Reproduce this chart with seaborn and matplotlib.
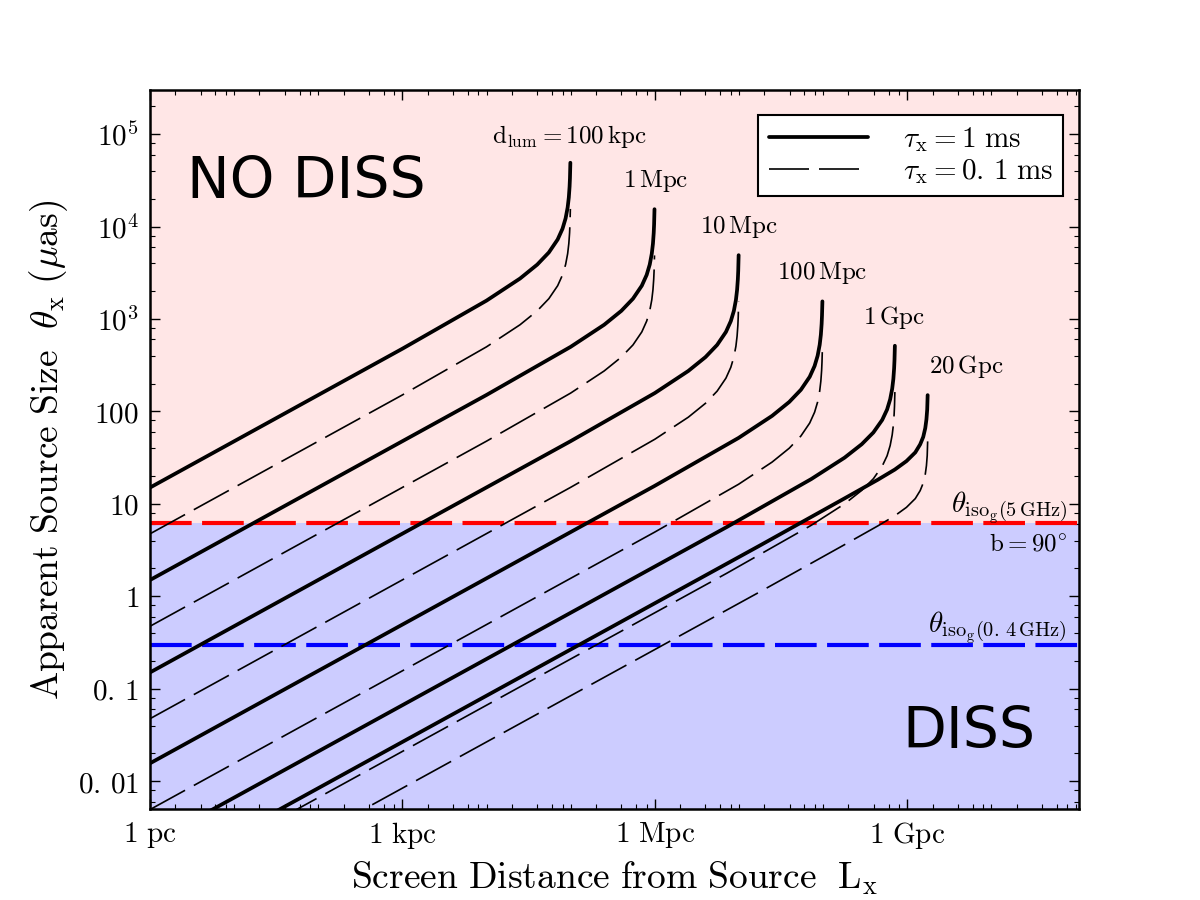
import matplotlib
matplotlib.use("Agg")
import matplotlib.pyplot as plt
from matplotlib.lines import Line2D
from matplotlib.ticker import FixedLocator, LogLocator, NullFormatter
import numpy as np
import pandas as pd
import seaborn as sns

# ---------------- data ----------------
# screen distance L (pc) and apparent size theta (micro-arcsec)
curve_names = ["100 kpc", "1 Mpc", "10 Mpc", "100 Mpc", "1 Gpc", "20 Gpc"]

L_100kpc = [1, 1e3, 1e4, 2.5e4, 4e4, 5.5e4, 7e4, 8e4, 8.7e4, 9.2e4, 9.5e4, 9.7e4, 9.8e4, 9.91e4]
th1_100kpc = [15, 477, 1581, 2739, 3873, 5243, 7245, 9486, 12270, 16080, 20670, 26970, 33200, 49000]
th01_100kpc = [4.74, 150.8, 500, 866, 1225, 1658, 2291, 3000, 3880, 5085, 6536, 8528, 10500, 15500]

L_1Mpc = [1, 1e4, 1e5, 2.5e5, 4e5, 5.5e5, 7e5, 8e5, 8.7e5, 9.2e5, 9.5e5, 9.7e5, 9.8e5, 9.91e5]
th1_1Mpc = [1.5, 150.8, 500, 866, 1225, 1658, 2291, 3000, 3881, 5087, 6539, 8529, 10500, 15400]
th01_1Mpc = [0.474, 47.7, 158, 274, 387, 524, 724, 949, 1227, 1609, 2068, 2697, 3320, 4870]

L_10Mpc = [1, 1e5, 1e6, 2.5e6, 4e6, 5.5e6, 7e6, 8e6, 8.7e6, 9.2e6, 9.5e6, 9.7e6, 9.8e6, 9.91e6]
th1_10Mpc = [0.15, 47.7, 158, 274, 387, 524, 724, 948, 1226, 1607, 2066, 2695, 3318, 4900]
th01_10Mpc = [0.0474, 15.1, 50, 86.6, 122.4, 165.7, 229, 300, 388, 508, 653, 852, 1049, 1550]

L_100Mpc = [1, 9.9e5, 9.9e6, 2.475e7, 3.96e7, 5.445e7, 6.93e7, 7.92e7, 8.613e7, 9.108e7, 9.405e7, 9.603e7, 9.702e7, 9.81e7]
th1_100Mpc = [0.0156, 15.6, 51.7, 89.5, 126.6, 171.4, 236.8, 310, 401, 525.6, 675.6, 881, 1085, 1550]
th01_100Mpc = [0.00493, 4.93, 16.3, 28.3, 40.0, 54.2, 74.9, 98, 126.8, 166.2, 213.6, 278.6, 343, 490]

L_1Gpc = [1, 7.2e6, 7.2e7, 1.8e8, 2.88e8, 3.96e8, 5.04e8, 5.76e8, 6.264e8, 6.624e8, 6.84e8, 6.984e8, 7.056e8, 7.128e8]
th1_1Gpc = [0.0021, 5.63, 18.5, 31.6, 44.2, 59.2, 80.9, 104.8, 135, 176, 225, 294, 361, 513]
th01_1Gpc = [0.000664, 1.78, 5.85, 10.0, 14.0, 18.7, 25.6, 33.1, 42.7, 55.7, 71.1, 93, 114, 162]

L_20Gpc = [1, 1.78e7, 1.78e8, 4.45e8, 7.12e8, 9.79e8, 1.246e9, 1.424e9, 1.549e9, 1.638e9, 1.691e9, 1.727e9, 1.748e9]
th1_20Gpc = [0.00084, 3.55, 11.4, 18.2, 23.5, 29, 36, 44, 53, 66, 82, 105, 150]
th01_20Gpc = [0.000266, 1.12, 3.6, 5.76, 7.43, 9.17, 11.4, 13.9, 16.8, 20.9, 25.9, 33.2, 47.4]

theta_iso_5GHz = 6.2
theta_iso_04GHz = 0.30

label_texts = [r"$\rm d_{lum}=100\,kpc$", r"$\rm 1\,Mpc$", r"$\rm 10\,Mpc$",
               r"$\rm 100\,Mpc$", r"$\rm 1\,Gpc$", r"$\rm 20\,Gpc$"]
label_L = [9.7e4, 1.03e6, 1.0e7, 9.7e7, 7.0e8, 5.0e9]
label_theta = [8.05e4, 2.68e4, 8600, 2720, 888, 262]

xtick_vals = [1, 1e3, 1e6, 1e9]
xtick_labels = [r"$\rm 1\ pc$", r"$\rm 1\ kpc$", r"$\rm 1\ Mpc$", r"$\rm 1\ Gpc$"]
ytick_vals = [1e-2, 1e-1, 1, 10, 100, 1e3, 1e4, 1e5]
ytick_labels = [r"$0.\,01$", r"$0.\,1$", r"$1$", r"$10$", r"$100$",
                r"$10^3$", r"$10^4$", r"$10^5$"]

# ---------------- build long tables ----------------
L_all = [L_100kpc, L_1Mpc, L_10Mpc, L_100Mpc, L_1Gpc, L_20Gpc]
th1_all = [th1_100kpc, th1_1Mpc, th1_10Mpc, th1_100Mpc, th1_1Gpc, th1_20Gpc]
th01_all = [th01_100kpc, th01_1Mpc, th01_10Mpc, th01_100Mpc, th01_1Gpc, th01_20Gpc]

rows1, rows01 = [], []
for name, Ls, t1, t01 in zip(curve_names, L_all, th1_all, th01_all):
    rows1.append(pd.DataFrame({"L": Ls, "theta": t1, "curve": name}))
    rows01.append(pd.DataFrame({"L": Ls, "theta": t01, "curve": name}))
df1 = pd.concat(rows1, ignore_index=True)
df01 = pd.concat(rows01, ignore_index=True)

# ---------------- style ----------------
sns.set_style("ticks")
plt.rcParams["mathtext.fontset"] = "cm"
plt.rcParams["font.family"] = ["DejaVu Serif"]
plt.rcParams["text.color"] = "black"
plt.rcParams["axes.labelcolor"] = "black"
plt.rcParams["xtick.color"] = "black"
plt.rcParams["ytick.color"] = "black"
plt.rcParams["axes.edgecolor"] = "black"

fig = plt.figure(figsize=(12, 9), dpi=100)
ax = fig.add_axes([150 / 1200, 91 / 900, 929 / 1200, 719 / 900])
ax.set_xscale("log")
ax.set_yscale("log")
ax.set_xlim(1, 1.1e11)
ax.set_ylim(0.005, 3e5)

ax.axhspan(theta_iso_5GHz, 3e5, facecolor=(1.0, 0.9, 0.9), lw=0, zorder=0)
ax.axhspan(0.005, theta_iso_5GHz, facecolor=(0.8, 0.8, 1.0), lw=0, zorder=0)

sns.lineplot(data=df1, x="L", y="theta", units="curve", estimator=None, sort=False,
             color="k", linewidth=2.7, ax=ax, legend=False, zorder=3)
sns.lineplot(data=df01, x="L", y="theta", units="curve", estimator=None, sort=False,
             color="k", linewidth=1.2, linestyle=(0, (24, 6)), ax=ax, legend=False, zorder=3)

ax.axhline(theta_iso_5GHz, color="red", lw=3, linestyle=(0, (10, 2.5)), zorder=2)
ax.axhline(theta_iso_04GHz, color="blue", lw=3, linestyle=(0, (10, 2.5)), zorder=2)

for t, lx, ly in zip(label_texts, label_L, label_theta):
    ax.text(lx, ly, t, ha="center", va="baseline", fontsize=18, color="black")

ytr = ax.get_yaxis_transform()
ax.text(0.987, 8.1, r"$\theta_{\rm iso_{g}(5\,GHz)}$", transform=ytr, ha="right",
        va="baseline", fontsize=21, color="black")
ax.text(0.987, 3.14, r"$\rm b=90^{\circ}$", transform=ytr, ha="right",
        va="baseline", fontsize=18, color="black")
ax.text(0.987, 0.41, r"$\theta_{\rm iso_{g}(0.\,4\,GHz)}$", transform=ytr, ha="right",
        va="baseline", fontsize=21, color="black")

ax.text(0.040, 0.85, "NO DISS", transform=ax.transAxes, ha="left", va="baseline",
        fontsize=41, family="DejaVu Sans", color="black")
ax.text(0.8095, 0.085, "DISS", transform=ax.transAxes, ha="left", va="baseline",
        fontsize=41, family="DejaVu Sans", color="black")

# ticks
ax.xaxis.set_major_locator(FixedLocator(xtick_vals))
ax.set_xticklabels(xtick_labels)
ax.xaxis.set_minor_locator(LogLocator(base=10, subs=(1.0, 2.0, 4.0, 6.0, 8.0), numticks=100))
ax.xaxis.set_minor_formatter(NullFormatter())
ax.yaxis.set_major_locator(FixedLocator(ytick_vals))
ax.set_yticklabels(ytick_labels)
ax.yaxis.set_minor_locator(LogLocator(base=10, subs=(2.0, 4.0, 6.0, 8.0), numticks=100))
ax.yaxis.set_minor_formatter(NullFormatter())
ax.tick_params(which="both", direction="in", top=True, right=True, color="k",
               labelcolor="k")
ax.tick_params(which="major", length=7, width=1.0, labelsize=21, pad=8)
ax.tick_params(which="minor", length=3.5, width=0.8)
for sp in ax.spines.values():
    sp.set_linewidth(1.8)
    sp.set_color("k")
    sp.set_zorder(5)

ax.set_xlabel(r"$\mathrm{Screen\ Distance\ from\ Source}\ \ \mathrm{L_x}$",
              fontsize=27, labelpad=6, color="black")
ax.set_ylabel(r"$\mathrm{Apparent\ Source\ Size}\ \ \theta_{\rm x}\ (\mu{\rm as})$",
              fontsize=27, labelpad=6, color="black")

handles = [Line2D([0], [0], color="k", lw=2.7),
           Line2D([0], [0], color="k", lw=1.2, linestyle=(0, (24, 6)))]
leg = ax.legend(handles, [r"$\tau_{\rm x}=1\ {\rm ms}$", r"$\tau_{\rm x}=0.\,1\ {\rm ms}$"],
                loc="upper right", bbox_to_anchor=(0.983, 0.965), borderaxespad=0,
                fontsize=21, handlelength=3.4, handletextpad=1.2, labelspacing=0.1,
                borderpad=0.35, fancybox=False, framealpha=1, edgecolor="k")
leg.get_frame().set_linewidth(1.5)
for txt in leg.get_texts():
    txt.set_color("black")
leg.set_zorder(6)

fig.savefig("out.png", dpi=100, facecolor="white")
